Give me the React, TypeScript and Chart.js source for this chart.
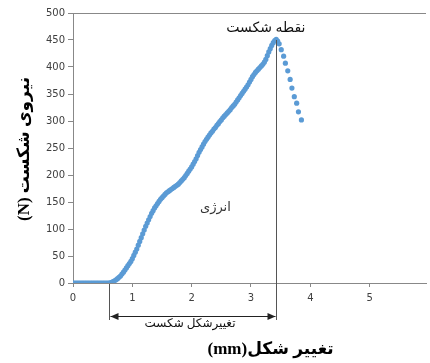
import React, { useEffect, useRef } from "react";
import { Chart, registerables } from "chart.js";

Chart.register(...registerables);

const deformationMm = [
  0, 0.025, 0.05, 0.075, 0.1, 0.125, 0.15, 0.175, 0.2, 0.225, 0.25, 0.275,
  0.3, 0.325, 0.35, 0.375, 0.4, 0.425, 0.45, 0.475, 0.5, 0.525, 0.55, 0.575,
  0.6, 0.625, 0.65, 0.675, 0.7, 0.725, 0.75, 0.775, 0.8, 0.825, 0.85, 0.875,
  0.9, 0.925, 0.95, 0.975, 1.0, 1.025, 1.05, 1.075, 1.1, 1.125, 1.15, 1.175,
  1.2, 1.225, 1.25, 1.275, 1.3, 1.325, 1.35, 1.375, 1.4, 1.425, 1.45, 1.475,
  1.5, 1.525, 1.55, 1.575, 1.6, 1.625, 1.65, 1.675, 1.7, 1.725, 1.75, 1.775,
  1.8, 1.825, 1.85, 1.875, 1.9, 1.925, 1.95, 1.975, 2.0, 2.025, 2.05, 2.075,
  2.1, 2.125, 2.15, 2.175, 2.2, 2.225, 2.25, 2.275, 2.3, 2.325, 2.35, 2.375,
  2.4, 2.425, 2.45, 2.475, 2.5, 2.525, 2.55, 2.575, 2.6, 2.625, 2.65, 2.675,
  2.7, 2.725, 2.75, 2.775, 2.8, 2.825, 2.85, 2.875, 2.9, 2.925, 2.95, 2.975,
  3.0, 3.025, 3.05, 3.075, 3.1, 3.125, 3.15, 3.175, 3.2, 3.225, 3.25, 3.275,
  3.3, 3.325, 3.35, 3.375, 3.4, 3.425,
  3.45, 3.475, 3.51, 3.55, 3.58, 3.62, 3.66, 3.69, 3.73, 3.77, 3.8, 3.85,
];

const forceN = [
  0, 0, 0, 0, 0, 0, 0, 0, 0, 0, 0, 0,
  0, 0, 0, 0, 0, 0, 0, 0, 0, 0, 0, 0,
  0, 0.5, 1, 2.5, 4, 6, 8, 10.5, 13, 16.5, 20, 24,
  28, 32, 36, 40, 45, 51, 57, 63, 70, 77, 84, 91,
  98, 105, 111, 117, 123, 129, 134, 139, 143, 147, 151, 155,
  158, 161, 164, 167, 169, 171, 173, 175, 177, 179, 181, 183,
  186, 189, 192, 195, 199, 203, 207, 211, 215, 220, 225, 230,
  236, 242, 247, 252, 257, 262, 266, 270, 274, 278, 281, 285,
  288, 292, 295, 299, 302, 306, 309, 312, 315, 318, 321, 325,
  328, 331, 335, 339, 343, 347, 351, 355, 359, 363, 367, 372,
  377, 382, 386, 390, 393, 396, 399, 402, 405, 409, 414, 421,
  428, 434, 440, 445, 449, 451,
  448, 443, 432, 420, 407, 393, 377, 361, 345, 333, 317, 302,
];

const xTickValues = [0, 1, 2, 3, 4, 5];
const yTickValues = [0, 50, 100, 150, 200, 250, 300, 350, 400, 450, 500];

const yTitle = "نیروی شکست (N)";
const xTitle = "تغییر شکل(mm)";
const peakLabel = "نقطه شکست";
const energyLabel = "انرژی";
const breakDeformationLabel = "تغییرشکل شکست";

const breakStart = 0.6;
const breakEnd = 3.43;
const peakForce = 450;

const annotationPlugin = {
  id: "annotations",
  afterDraw(chart: any) {
    const { ctx, chartArea, scales } = chart;
    const x = scales.x;
    const y = scales.y;
    ctx.save();

    // top border
    ctx.strokeStyle = "#888888";
    ctx.lineWidth = 1;
    ctx.beginPath();
    ctx.moveTo(chartArea.left, Math.round(chartArea.top) + 0.5);
    ctx.lineTo(chartArea.right, Math.round(chartArea.top) + 0.5);
    ctx.stroke();

    const xe = Math.round(x.getPixelForValue(breakEnd)) + 0.5;
    const xs = Math.round(x.getPixelForValue(breakStart)) + 0.5;
    const yPeak = y.getPixelForValue(peakForce);
    const yBottom = chartArea.bottom + 37;

    ctx.strokeStyle = "#555555";
    ctx.beginPath();
    ctx.moveTo(xe, yPeak);
    ctx.lineTo(xe, yBottom);
    ctx.moveTo(xs, chartArea.bottom + 1);
    ctx.lineTo(xs, yBottom);
    ctx.stroke();

    // double arrow
    const ay = Math.round(chartArea.bottom + 33) + 0.5;
    ctx.strokeStyle = "#222222";
    ctx.fillStyle = "#222222";
    ctx.beginPath();
    ctx.moveTo(xs + 1, ay);
    ctx.lineTo(xe - 1, ay);
    ctx.stroke();
    ctx.beginPath();
    ctx.moveTo(xs + 1, ay);
    ctx.lineTo(xs + 9, ay - 3.5);
    ctx.lineTo(xs + 9, ay + 3.5);
    ctx.closePath();
    ctx.fill();
    ctx.beginPath();
    ctx.moveTo(xe - 1, ay);
    ctx.lineTo(xe - 9, ay - 3.5);
    ctx.lineTo(xe - 9, ay + 3.5);
    ctx.closePath();
    ctx.fill();

    ctx.direction = "rtl";
    ctx.textAlign = "center";
    ctx.textBaseline = "middle";

    // labels
    ctx.fillStyle = "#111111";
    ctx.font = "14px 'Liberation Serif', 'DejaVu Sans'";
    ctx.fillText(peakLabel, x.getPixelForValue(3.25), y.getPixelForValue(471));
    ctx.fillStyle = "#333333";
    ctx.font = "13px 'Liberation Serif', 'DejaVu Sans'";
    ctx.fillText(energyLabel, x.getPixelForValue(2.4), y.getPixelForValue(140));
    ctx.fillStyle = "#111111";
    ctx.font = "12px 'Liberation Serif', 'DejaVu Sans'";
    ctx.fillText(breakDeformationLabel, (xs + xe) / 2 - 3, chartArea.bottom + 41);

    // axis titles
    ctx.fillStyle = "#000000";
    ctx.font = "bold 17px 'Liberation Serif', 'DejaVu Sans'";
    ctx.fillText(xTitle, x.getPixelForValue(3.33), chartArea.bottom + 67);

    ctx.save();
    ctx.translate(chartArea.left - 48, (chartArea.top + chartArea.bottom) / 2 + 1);
    ctx.rotate(-Math.PI / 2);
    ctx.fillText(yTitle, 0, 0);
    ctx.restore();

    ctx.restore();
  },
};

export default function App() {
  const canvasRef = useRef<HTMLCanvasElement | null>(null);

  useEffect(() => {
    if (!canvasRef.current) return;
    const points = deformationMm.map((d, i) => ({ x: d, y: forceN[i] }));
    const tickFont = { family: "'DejaVu Sans'", size: 10 };
    const chart = new Chart(canvasRef.current, {
      type: "scatter",
      data: {
        datasets: [
          {
            data: points,
            backgroundColor: "#5B9BD5",
            borderColor: "#5B9BD5",
            pointRadius: 2.6,
            pointBorderWidth: 0,
            showLine: false,
          },
        ],
      },
      options: {
        animation: false,
        responsive: true,
        maintainAspectRatio: false,
        layout: { padding: { top: 13, left: 0, right: 0, bottom: 0 } },
        plugins: {
          legend: { display: false },
          tooltip: { enabled: false },
          title: { display: false },
        },
        scales: {
          x: {
            type: "linear",
            min: 0,
            max: 5.95,
            afterBuildTicks: (s: any) => {
              s.ticks = xTickValues.map((v) => ({ value: v }));
            },
            afterFit: (s: any) => {
              s.height = 80;
            },
            ticks: { font: tickFont, color: "#404040", padding: 5, includeBounds: false },
            grid: { drawOnChartArea: false, tickLength: 4, color: "#888888" },
            border: { color: "#888888" },
          },
          y: {
            type: "linear",
            min: 0,
            max: 500,
            afterBuildTicks: (s: any) => {
              s.ticks = yTickValues.map((v) => ({ value: v }));
            },
            afterFit: (s: any) => {
              s.width = 73;
            },
            ticks: { font: tickFont, color: "#404040", padding: 3 },
            grid: { drawOnChartArea: false, tickLength: 5, color: "#888888" },
            border: { color: "#888888" },
          },
        },
      },
      plugins: [annotationPlugin],
    } as any);
    return () => chart.destroy();
  }, []);

  return (
    <div style={{ position: "fixed", left: 0, top: 0, width: 430, height: 363, background: "#fff" }}>
      <canvas ref={canvasRef} />
    </div>
  );
}
